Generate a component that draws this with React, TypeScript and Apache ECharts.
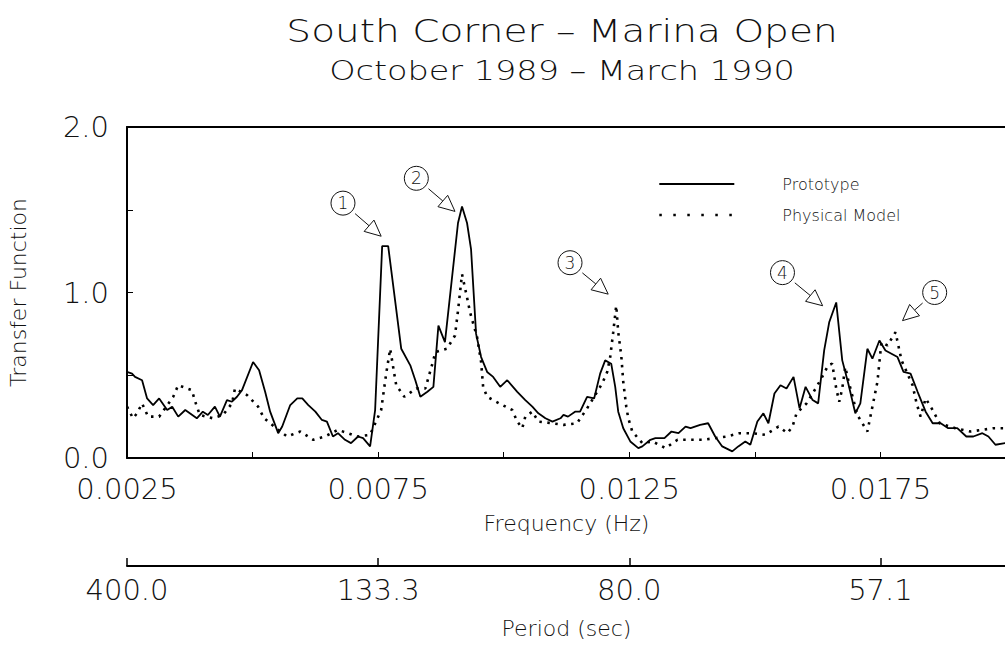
import React, { useEffect, useRef } from "react";
import * as echarts from "echarts";

// Frequency (Hz) / transfer-function pairs
const prototypeCurve: [number, number][] = [
  [0.0025, 0.52], [0.0026, 0.51], [0.00266, 0.49], [0.0028, 0.47], [0.0029, 0.36], [0.00302, 0.32],
  [0.00314, 0.36], [0.0033, 0.29], [0.0034, 0.31], [0.00352, 0.25], [0.00366, 0.29], [0.00389, 0.24],
  [0.00401, 0.28], [0.00411, 0.26], [0.00425, 0.31], [0.00435, 0.25], [0.00449, 0.35], [0.00459, 0.34],
  [0.00469, 0.37], [0.00479, 0.41], [0.00501, 0.58], [0.00513, 0.53], [0.00525, 0.4], [0.00535, 0.28],
  [0.00551, 0.15], [0.00559, 0.19], [0.00575, 0.32], [0.00589, 0.36], [0.00599, 0.36], [0.00611, 0.32],
  [0.00625, 0.28], [0.00638, 0.23], [0.00648, 0.22], [0.0066, 0.13], [0.0067, 0.15], [0.00684, 0.11],
  [0.00696, 0.09], [0.0071, 0.13], [0.0072, 0.12], [0.00734, 0.07], [0.00744, 0.29], [0.00758, 1.28],
  [0.0077, 1.28], [0.00796, 0.66], [0.00814, 0.56], [0.00824, 0.47], [0.00834, 0.37], [0.00848, 0.4],
  [0.0086, 0.43], [0.0087, 0.8], [0.00883, 0.7], [0.00909, 1.42], [0.00917, 1.52], [0.00927, 1.42],
  [0.00935, 1.26], [0.00945, 0.75], [0.00955, 0.61], [0.00967, 0.52], [0.00979, 0.49], [0.00993, 0.43],
  [0.01007, 0.47], [0.01027, 0.4], [0.01043, 0.35], [0.01057, 0.31], [0.01069, 0.27], [0.01083, 0.24],
  [0.01097, 0.22], [0.01113, 0.24], [0.01119, 0.26], [0.01128, 0.25], [0.01142, 0.28], [0.01152, 0.28],
  [0.01166, 0.37], [0.0118, 0.36], [0.01192, 0.51], [0.01202, 0.59], [0.01214, 0.57], [0.01222, 0.43],
  [0.01228, 0.28], [0.01238, 0.18], [0.01252, 0.1], [0.01268, 0.06], [0.01276, 0.07], [0.01292, 0.11],
  [0.01302, 0.12], [0.0132, 0.12], [0.01334, 0.16], [0.01348, 0.15], [0.01362, 0.19], [0.01372, 0.18],
  [0.01391, 0.2], [0.01407, 0.21], [0.01421, 0.13], [0.01435, 0.07], [0.01455, 0.04], [0.01467, 0.07],
  [0.01481, 0.1], [0.01491, 0.08], [0.01505, 0.22], [0.01517, 0.27], [0.01527, 0.21], [0.01539, 0.39],
  [0.01551, 0.44], [0.01563, 0.42], [0.01577, 0.49], [0.01589, 0.3], [0.01601, 0.43], [0.01615, 0.35],
  [0.01626, 0.33], [0.01638, 0.65], [0.01648, 0.82], [0.01662, 0.94], [0.01674, 0.59], [0.01686, 0.45],
  [0.017, 0.27], [0.0171, 0.33], [0.01724, 0.66], [0.01734, 0.6], [0.01748, 0.71], [0.0176, 0.65],
  [0.01784, 0.61], [0.01796, 0.52], [0.0181, 0.51], [0.01824, 0.4], [0.0184, 0.28], [0.01854, 0.21],
  [0.0187, 0.21], [0.01885, 0.18], [0.01903, 0.18], [0.01921, 0.13], [0.01935, 0.13], [0.01953, 0.15],
  [0.01965, 0.13], [0.01979, 0.08], [0.01999, 0.09],
];

const physicalModelCurve: [number, number][] = [
  [0.0025, 0.31], [0.00262, 0.24], [0.0027, 0.27], [0.0028, 0.33], [0.00292, 0.25], [0.00314, 0.25],
  [0.00342, 0.37], [0.00352, 0.44], [0.00379, 0.41], [0.00387, 0.33], [0.00395, 0.26], [0.00421, 0.24],
  [0.00441, 0.26], [0.00459, 0.33], [0.00465, 0.42], [0.00489, 0.38], [0.00511, 0.31], [0.00523, 0.24],
  [0.00551, 0.17], [0.00569, 0.13], [0.00595, 0.16], [0.00621, 0.11], [0.00644, 0.13], [0.0067, 0.17],
  [0.0069, 0.15], [0.00708, 0.13], [0.00734, 0.14], [0.00756, 0.29], [0.00766, 0.51], [0.00774, 0.66],
  [0.00782, 0.51], [0.00786, 0.44], [0.00802, 0.37], [0.00826, 0.42], [0.00844, 0.42], [0.00858, 0.57],
  [0.00864, 0.64], [0.00887, 0.66], [0.00903, 0.74], [0.00909, 0.89], [0.00917, 1.11], [0.00927, 0.97],
  [0.00933, 0.88], [0.00947, 0.73], [0.00955, 0.58], [0.00959, 0.43], [0.00967, 0.37], [0.00991, 0.33],
  [0.01017, 0.29], [0.01027, 0.22], [0.01037, 0.18], [0.01043, 0.25], [0.01057, 0.28], [0.01069, 0.22],
  [0.01097, 0.21], [0.01119, 0.2], [0.01146, 0.21], [0.01166, 0.3], [0.01196, 0.45], [0.01206, 0.52],
  [0.01212, 0.61], [0.01218, 0.76], [0.01224, 0.92], [0.01228, 0.76], [0.01234, 0.62], [0.01238, 0.46],
  [0.01244, 0.31], [0.01248, 0.24], [0.01256, 0.16], [0.01276, 0.09], [0.01296, 0.1], [0.01322, 0.06],
  [0.01346, 0.11], [0.01372, 0.11], [0.01397, 0.11], [0.01421, 0.12], [0.01445, 0.13], [0.01469, 0.15],
  [0.01495, 0.15], [0.01521, 0.14], [0.01547, 0.19], [0.01565, 0.15], [0.01575, 0.19], [0.01583, 0.27],
  [0.01603, 0.33], [0.01621, 0.42], [0.01634, 0.49], [0.01646, 0.56], [0.01654, 0.57], [0.01662, 0.42],
  [0.01668, 0.34], [0.01674, 0.42], [0.0168, 0.55], [0.01686, 0.47], [0.01704, 0.26], [0.01724, 0.16],
  [0.01734, 0.31], [0.01744, 0.46], [0.01752, 0.7], [0.01764, 0.68], [0.0178, 0.76], [0.01792, 0.59],
  [0.01814, 0.44], [0.01822, 0.33], [0.0183, 0.25], [0.0184, 0.36], [0.01852, 0.3], [0.01868, 0.21],
  [0.01899, 0.18], [0.01929, 0.16], [0.01975, 0.18], [0.02, 0.18],
];

// Period axis marks, placed at these frequencies and labelled 1/f
const periodTickFreqs = [0.0025, 0.0075, 0.0125, 0.0175];

// Numbered resonance callouts: circle position and arrow tip in data units
const callouts = [
  { label: "1", at: [0.0068, 1.54], tip: [0.00756, 1.34] },
  { label: "2", at: [0.00826, 1.69], tip: [0.00903, 1.49] },
  { label: "3", at: [0.01132, 1.18], tip: [0.01208, 0.99] },
  { label: "4", at: [0.01555, 1.12], tip: [0.01635, 0.92] },
  { label: "5", at: [0.01858, 1.0], tip: [0.01794, 0.83] },
];

const chartTitle = "South Corner \u2013 Marina Open";
const chartSubtitle = "October 1989 \u2013 March 1990";

const FONT = "'DejaVu Sans ExtraLight', 'DejaVu Sans', sans-serif";
const INK = "#111";

function calloutGraphics(chart: echarts.ECharts) {
  const els: any[] = [];
  const r = 12;
  callouts.forEach((c) => {
    const p = chart.convertToPixel({ gridIndex: 0 }, c.at) as number[];
    const t = chart.convertToPixel({ gridIndex: 0 }, c.tip) as number[];
    const dx = t[0] - p[0];
    const dy = t[1] - p[1];
    const len = Math.hypot(dx, dy);
    const ux = dx / len;
    const uy = dy / len;
    const nx = -uy;
    const ny = ux;
    const headLen = 16;
    const headHalf = 7.5;
    const bx = t[0] - ux * headLen;
    const by = t[1] - uy * headLen;
    els.push({
      type: "circle",
      z: 20,
      shape: { cx: p[0], cy: p[1], r },
      style: { fill: "#fff", stroke: INK, lineWidth: 1 },
    });
    els.push({
      type: "text",
      z: 21,
      x: p[0],
      y: p[1],
      style: {
        text: c.label,
        fill: INK,
        font: `200 17px ${FONT}`,
        align: "center",
        verticalAlign: "middle",
        textAlign: "center",
        textVerticalAlign: "middle",
      },
    });
    els.push({
      type: "line",
      z: 20,
      shape: { x1: p[0] + ux * (r + 4), y1: p[1] + uy * (r + 4), x2: bx, y2: by },
      style: { stroke: INK, lineWidth: 1 },
    });
    els.push({
      type: "polygon",
      z: 20,
      shape: {
        points: [
          [t[0], t[1]],
          [bx + nx * headHalf, by + ny * headHalf],
          [bx - nx * headHalf, by - ny * headHalf],
        ],
      },
      style: { fill: "#fff", stroke: INK, lineWidth: 1 },
    });
  });
  return els;
}

// Heading lines, stretched horizontally for the wide plotter lettering
function headingGraphics() {
  return [
    {
      type: "text",
      z: 30,
      x: 562,
      y: 31,
      scaleX: 1.22,
      style: {
        text: chartTitle,
        fill: INK,
        font: `200 32px ${FONT}`,
        align: "center",
        verticalAlign: "middle",
        textAlign: "center",
        textVerticalAlign: "middle",
      },
    },
    {
      type: "text",
      z: 30,
      x: 562,
      y: 71,
      scaleX: 1.24,
      style: {
        text: chartSubtitle,
        fill: INK,
        font: `200 27px ${FONT}`,
        align: "center",
        verticalAlign: "middle",
        textAlign: "center",
        textVerticalAlign: "middle",
      },
    },
  ];
}

export default function App() {
  const ref = useRef<HTMLDivElement>(null);

  useEffect(() => {
    if (!ref.current) return;
    const chart = echarts.init(ref.current, undefined, { renderer: "svg" });
    const textBase = { fontFamily: FONT, fontWeight: 200 as any, color: INK };
    const blackLine = { show: true, lineStyle: { color: "#000", width: 2 } };

    const option: any = {
      animation: false,
      backgroundColor: "#fff",
      legend: {
        orient: "vertical",
        left: 658,
        top: 176,
        padding: 0,
        itemWidth: 75,
        itemHeight: 14,
        itemGap: 15,
        itemStyle: { opacity: 0 },
        textStyle: { ...textBase, fontSize: 16, padding: [0, 0, 0, 43] },
        data: [
          { name: "Prototype", itemStyle: { opacity: 0 }, lineStyle: { width: 1.8, color: "#000" } },
          {
            name: "Physical Model",
            itemStyle: { opacity: 0 },
            lineStyle: { width: 2.6, color: "#000", type: [2.5, 11.5] },
          },
        ],
      },
      grid: [
        { left: 127, top: 127, width: 879, height: 331, outerBoundsMode: "none" },
        { left: 127, top: 556, width: 879, height: 10, outerBoundsMode: "none" },
      ],
      xAxis: [
        {
          type: "value",
          gridIndex: 0,
          min: 0.0025,
          max: 0.02,
          interval: 0.0025,
          name: "Frequency (Hz)",
          nameLocation: "middle",
          nameGap: 54,
          nameTextStyle: { ...textBase, fontSize: 22 },
          axisLine: blackLine,
          axisTick: { inside: true, length: 6, lineStyle: { color: "#000", width: 1 } },
          axisLabel: {
            ...textBase,
            fontSize: 29,
            margin: 16,
            formatter: (v: number) =>
              Math.round(v / 0.0025) % 2 === 1 ? v.toFixed(4) : "",
          },
          splitLine: { show: false },
        },
        {
          type: "value",
          gridIndex: 1,
          min: 0.0025,
          max: 0.02,
          position: "bottom",
          name: "Period (sec)",
          nameLocation: "middle",
          nameGap: 51,
          nameTextStyle: { ...textBase, fontSize: 22 },
          axisLine: blackLine,
          axisTick: {
            show: true,
            inside: true,
            length: 8,
            customValues: periodTickFreqs,
            lineStyle: { color: "#000", width: 1.5 },
          },
          axisLabel: {
            ...textBase,
            fontSize: 29,
            margin: 9,
            customValues: periodTickFreqs,
            formatter: (v: number) => (1 / v).toFixed(1),
          },
          splitLine: { show: false },
        },
        {
          // frame line along the top of the plot
          type: "value",
          gridIndex: 0,
          position: "top",
          min: 0.0025,
          max: 0.02,
          axisLine: blackLine,
          axisTick: { show: false },
          axisLabel: { show: false },
          splitLine: { show: false },
        },
      ],
      yAxis: [
        {
          type: "value",
          gridIndex: 0,
          min: 0,
          max: 2,
          interval: 0.5,
          name: "Transfer Function",
          nameLocation: "middle",
          nameRotate: 90,
          nameGap: 98,
          nameTextStyle: { ...textBase, fontSize: 22 },
          axisLine: blackLine,
          axisTick: { inside: true, length: 6, lineStyle: { color: "#000", width: 1 } },
          axisLabel: {
            ...textBase,
            fontSize: 29,
            margin: 18,
            formatter: (v: number) => (Math.abs(v % 1) < 1e-9 ? v.toFixed(1) : ""),
          },
          splitLine: { show: false },
        },
        { type: "value", gridIndex: 1, show: false, min: 0, max: 1 },
      ],
      series: [
        {
          name: "Prototype",
          type: "line",
          xAxisIndex: 0,
          yAxisIndex: 0,
          data: prototypeCurve,
          symbol: "none",
          showSymbol: false,
          itemStyle: { color: "#000" },
          lineStyle: { color: "#000", width: 1.8 },
          z: 3,
        },
        {
          name: "Physical Model",
          type: "line",
          xAxisIndex: 0,
          yAxisIndex: 0,
          data: physicalModelCurve,
          symbol: "none",
          showSymbol: false,
          itemStyle: { color: "#000" },
          lineStyle: { color: "#000", width: 2.6, type: [2.5, 5.5] },
          z: 3,
        },
      ],
    };

    chart.setOption(option);
    chart.setOption({
      graphic: { elements: [...headingGraphics(), ...calloutGraphics(chart)] },
    });

    return () => chart.dispose();
  }, []);

  return (
    <div
      ref={ref}
      style={{ position: "fixed", left: 0, top: 0, width: 1005, height: 648, background: "#fff" }}
    />
  );
}
